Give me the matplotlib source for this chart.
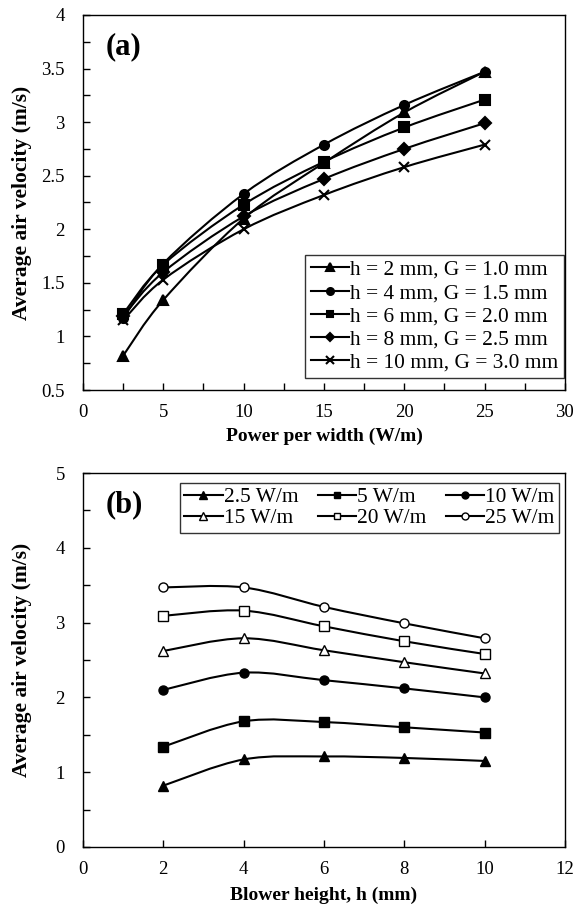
import numpy as np
import matplotlib.pyplot as plt
from matplotlib.path import Path
from matplotlib.patches import PathPatch
from matplotlib.lines import Line2D
from matplotlib.ticker import MultipleLocator, FuncFormatter

plt.rcParams['font.family'] = ['Liberation Serif', 'DejaVu Serif']

# данные: средняя скорость воздуха (м/с)
power = [2.5, 5, 10, 15, 20, 25]          # W/m
heights = [2, 4, 6, 8, 10]                # mm
gaps = [1.0, 1.5, 2.0, 2.5, 3.0]          # mm

v_h2 = [0.82, 1.34, 2.10, 2.62, 3.09, 3.47]
v_h4 = [1.17, 1.68, 2.33, 2.79, 3.16, 3.47]
v_h6 = [1.21, 1.67, 2.23, 2.63, 2.95, 3.21]
v_h8 = [1.19, 1.60, 2.12, 2.47, 2.75, 2.99]
v_h10 = [1.15, 1.53, 2.00, 2.32, 2.58, 2.79]
velocity = [v_h2, v_h4, v_h6, v_h8, v_h10]

labels_a = ['h = %d mm, G = %.1f mm' % (h, g) for h, g in zip(heights, gaps)]
labels_b = ['%g W/m' % p for p in power]

markers_a = ['^', 'o', 's', 'D', 'x']
markers_b = ['^', 's', 'o', '^', 's', 'o']
filled_b = [True, True, True, False, False, False]

FS = 13.5
LFS = 15.4


def smooth_path(x, y):
    # сглаженная линия как в Excel (кривые Безье)
    pts = np.column_stack([x, y]).astype(float)
    n = len(pts)
    verts = [pts[0]]
    codes = [Path.MOVETO]
    for i in range(n - 1):
        p0 = pts[i - 1] if i > 0 else pts[i]
        p1 = pts[i]
        p2 = pts[i + 1]
        p3 = pts[i + 2] if i + 2 < n else pts[i + 1]
        c1 = p1 + (p2 - p0) / 6.0
        c2 = p2 - (p3 - p1) / 6.0
        verts.extend([c1, c2, p2])
        codes.extend([Path.CURVE4] * 3)
    return Path(verts, codes)


def style_axes(ax):
    ax.tick_params(direction='in', which='both', labelsize=FS, length=5,
                   top=False, right=False, width=1)
    ax.tick_params(axis='x', which='both', pad=10)
    ax.tick_params(axis='y', which='both', pad=13)
    for s in ax.spines.values():
        s.set_linewidth(1)
    ax.xaxis.set_major_formatter(FuncFormatter(lambda v, p: '%g' % v))
    ax.yaxis.set_major_formatter(FuncFormatter(lambda v, p: '%g' % v))
    ax.set_ylabel('Average air velocity (m/s)', fontsize=15.5, fontweight='bold')
    ax.yaxis.set_label_coords(-0.105, 0.5)


fig = plt.figure(figsize=(5.86, 9.07), dpi=100)

# (a)
ax1 = fig.add_axes([0.1416, 0.570, 0.8224, 0.4135])
handles = []
for vals, m, lab in zip(velocity, markers_a, labels_a):
    ax1.add_patch(PathPatch(smooth_path(power, vals), fill=False, lw=1.5, color='black'))
    ms = {'^': 7.5, 'o': 6.5, 's': 6.5, 'D': 6, 'x': 7}[m]
    ax1.plot(power, vals, ls='none', marker=m, color='black', ms=ms, mew=1.5)
    handles.append(Line2D([], [], color='black', lw=1.5, marker=m, ms=ms - 1.5, mew=1.5))
ax1.set_xlim(0, 30)
ax1.set_ylim(0.5, 4)
ax1.xaxis.set_major_locator(MultipleLocator(5))
ax1.xaxis.set_minor_locator(MultipleLocator(2.5))
ax1.yaxis.set_major_locator(MultipleLocator(0.5))
ax1.yaxis.set_minor_locator(MultipleLocator(0.25))
style_axes(ax1)
ax1.set_xlabel('Power per width (W/m)', fontsize=14, fontweight='bold')
ax1.xaxis.set_label_coords(0.5, -0.1)
ax1.text(0.046, 0.955, '(a)', transform=ax1.transAxes, fontsize=22, fontweight='bold',
         va='top', ha='left')
leg = ax1.legend(handles, labels_a, loc='lower right', fontsize=LFS, frameon=True,
                 fancybox=False, edgecolor='black', handlelength=1.8, handletextpad=0.05,
                 borderpad=0.25, labelspacing=0.15, borderaxespad=0,
                 bbox_to_anchor=(564 / 586, 1 - 378 / 907), bbox_transform=fig.transFigure)
leg.get_frame().set_linewidth(1)

# (b)
ax2 = fig.add_axes([0.1416, 0.0662, 0.8224, 0.4123])
hb = []
for j, (lab, m, f) in enumerate(zip(labels_b, markers_b, filled_b)):
    vals = [row[j] for row in velocity]
    ax2.add_patch(PathPatch(smooth_path(heights, vals), fill=False, lw=1.5, color='black'))
    fc = 'black' if f else 'white'
    ms = 7.5 if m == '^' else 6.5
    ax2.plot(heights, vals, ls='none', marker=m, color='black', mfc=fc, ms=ms, mew=1)
    hb.append(Line2D([], [], color='black', lw=1.5, marker=m, mfc=fc, ms=ms - 1.5, mew=1))
ax2.set_xlim(0, 12)
ax2.set_ylim(0, 5)
ax2.xaxis.set_major_locator(MultipleLocator(2))
ax2.yaxis.set_major_locator(MultipleLocator(1))
ax2.yaxis.set_minor_locator(MultipleLocator(0.5))
style_axes(ax2)
ax2.set_xlabel('Blower height, h (mm)', fontsize=14, fontweight='bold')
ax2.xaxis.set_label_coords(0.5, -0.105)
ax2.text(0.046, 0.955, '(b)', transform=ax2.transAxes, fontsize=22, fontweight='bold',
         va='top', ha='left')
order = [0, 3, 1, 4, 2, 5]
leg2 = ax2.legend([hb[i] for i in order], [labels_b[i] for i in order], loc='upper right',
                  ncol=3, fontsize=LFS, frameon=True, fancybox=False, edgecolor='black',
                  handlelength=1.8, handletextpad=0.05, borderpad=0.2, labelspacing=0.05,
                  columnspacing=0.9, borderaxespad=0,
                  bbox_to_anchor=(559 / 586, 1 - 483 / 907), bbox_transform=fig.transFigure)
leg2.get_frame().set_linewidth(1)

fig.savefig('out.png', dpi=100)
